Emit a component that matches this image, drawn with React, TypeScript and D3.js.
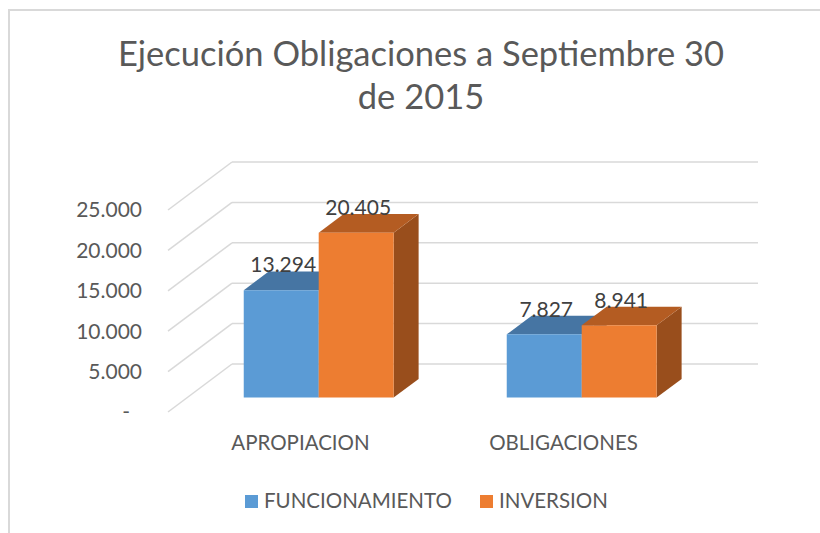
import React, { useEffect, useRef } from 'react';
import * as d3 from 'd3';

// chart values
const categories = ['APROPIACION', 'OBLIGACIONES'];
const seriesNames = ['FUNCIONAMIENTO', 'INVERSION'];
const funcionamiento = [13294, 7827];
const inversion = [20405, 8941];
const yTicks = [0, 5000, 10000, 15000, 20000, 25000];
const titleLines = ['Ejecución Obligaciones a Septiembre 30', 'de 2015'];

const App = () => {
  const svgRef = useRef<SVGSVGElement>(null);

  useEffect(() => {
    const svg = d3.select(svgRef.current);
    svg.selectAll('*').remove();

    const W = 820;
    const H = 533;
    const font = 'Lato, "Open Sans", sans-serif';

    // front plane of the 3d box
    const left = 168;
    const right = 694;
    const depthX = 64;
    const depthY = -48;
    const zFront = 0.3;
    const zBack = 0.69;

    const proj = (x: number, y: number, z: number): [number, number] => [x + z * depthX, y + z * depthY];

    const xScale = d3.scaleBand<string>()
      .domain(categories)
      .range([left, right])
      .paddingInner(0.43)
      .paddingOuter(0.215);

    const xSub = d3.scaleBand<string>()
      .domain(seriesNames)
      .range([0, xScale.bandwidth()]);

    const yScale = d3.scaleLinear()
      .domain([0, 25000])
      .range([412, 210]);

    svg.append('rect')
      .attr('width', W)
      .attr('height', H)
      .attr('fill', '#ffffff');

    // chart border (only top and left visible)
    svg.append('path')
      .attr('d', `M9,${H} L9,10 L${W},10`)
      .attr('fill', 'none')
      .attr('stroke', '#d9d9d9')
      .attr('stroke-width', 2);

    // title
    svg.append('g')
      .selectAll('text')
      .data(titleLines)
      .enter()
      .append('text')
      .attr('x', 421)
      .attr('y', (d, i) => 66 + i * 43)
      .attr('text-anchor', 'middle')
      .style('font-family', font)
      .style('font-size', '34.5px')
      .style('fill', '#595959')
      .text(d => d);

    // gridlines: back wall + left wall diagonals
    const grid = svg.append('g')
      .attr('stroke', '#d9d9d9')
      .attr('stroke-width', 1.5)
      .attr('fill', 'none');

    grid.selectAll('.back')
      .data(yTicks)
      .enter()
      .append('line')
      .attr('x1', d => proj(left, yScale(d), 1)[0])
      .attr('y1', d => proj(left, yScale(d), 1)[1])
      .attr('x2', d => proj(right, yScale(d), 1)[0])
      .attr('y2', d => proj(right, yScale(d), 1)[1]);

    grid.selectAll('.side')
      .data(yTicks)
      .enter()
      .append('line')
      .attr('x1', left)
      .attr('y1', d => yScale(d))
      .attr('x2', d => proj(left, yScale(d), 1)[0])
      .attr('y2', d => proj(left, yScale(d), 1)[1]);

    // y axis labels
    svg.append('g')
      .selectAll('text')
      .data(yTicks)
      .enter()
      .append('text')
      .attr('x', d => (d === 0 ? 130 : 142))
      .attr('y', d => yScale(d))
      .attr('dy', '0.35em')
      .attr('text-anchor', 'end')
      .style('font-family', font)
      .style('font-size', '21px')
      .style('fill', '#595959')
      .text(d => (d === 0 ? '-' : d3.format(',')(d).replace(/,/g, '.')));

    // bars
    const colors = [
      { front: '#5b9bd5', top: '#4675a3', side: '#3e6a96' },
      { front: '#ed7d31', top: '#b45c22', side: '#994e1c' },
    ];
    const seriesValues = [funcionamiento, inversion];

    const bars = categories.flatMap((c, ci) =>
      seriesNames.map((s, si) => ({ c, s, si, v: seriesValues[si][ci] }))
    );

    const barG = svg.append('g');
    bars.forEach(b => {
      const x0 = (xScale(b.c) as number) + (xSub(b.s) as number);
      const x1 = x0 + xSub.bandwidth();
      const y0 = yScale(0);
      const y1 = yScale(b.v);
      const col = colors[b.si];
      const poly = (pts: [number, number][]) => 'M' + pts.map(p => p.join(',')).join('L') + 'Z';

      // side face
      barG.append('path')
        .attr('d', poly([proj(x1, y1, zFront), proj(x1, y1, zBack), proj(x1, y0, zBack), proj(x1, y0, zFront)]))
        .attr('fill', col.side);
      // top face
      barG.append('path')
        .attr('d', poly([proj(x0, y1, zFront), proj(x0, y1, zBack), proj(x1, y1, zBack), proj(x1, y1, zFront)]))
        .attr('fill', col.top);
      // front face
      barG.append('path')
        .attr('d', poly([proj(x0, y1, zFront), proj(x1, y1, zFront), proj(x1, y0, zFront), proj(x0, y0, zFront)]))
        .attr('fill', col.front);
    });

    // data labels
    svg.append('g')
      .selectAll('text')
      .data(bars)
      .enter()
      .append('text')
      .attr('x', d => proj((xScale(d.c) as number) + (xSub(d.s) as number) + xSub.bandwidth() / 2, 0, zFront)[0] + 2)
      .attr('y', d => proj(0, yScale(d.v), zBack)[1] + 1)
      .attr('text-anchor', 'middle')
      .style('font-family', font)
      .style('font-size', '21px')
      .style('fill', '#404040')
      .text(d => d3.format(',')(d.v).replace(/,/g, '.'));

    // category labels
    svg.append('g')
      .selectAll('text')
      .data(categories)
      .enter()
      .append('text')
      .attr('x', d => (xScale(d) as number) + xScale.bandwidth() / 2 + 1)
      .attr('y', 450)
      .attr('text-anchor', 'middle')
      .style('font-family', font)
      .style('font-size', '20.5px')
      .style('fill', '#595959')
      .text(d => d);

    // legend
    const legendX = [245, 480];
    const legend = svg.append('g')
      .selectAll('g')
      .data(seriesNames)
      .enter()
      .append('g')
      .attr('transform', (d, i) => `translate(${legendX[i]},495)`);

    legend.append('rect')
      .attr('width', 13)
      .attr('height', 13)
      .attr('fill', (d, i) => colors[i].front);

    legend.append('text')
      .attr('x', 19)
      .attr('y', 12.5)
      .style('font-family', font)
      .style('font-size', '20.5px')
      .style('fill', '#595959')
      .text(d => d);
  }, []);

  return (
    <svg
      ref={svgRef}
      width={820}
      height={533}
      style={{ position: 'absolute', left: 0, top: 0, display: 'block' }}
    ></svg>
  );
};

export default App;
